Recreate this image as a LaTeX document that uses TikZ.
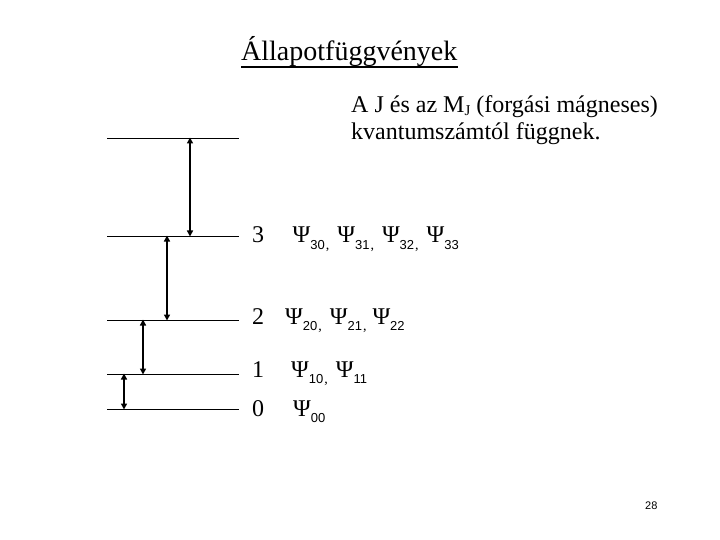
\documentclass[tikz,border=0pt]{standalone}
\usepackage{fontspec}
\setmainfont{Liberation Serif}
\setsansfont{Liberation Sans}
\usetikzlibrary{arrows.meta}
\newcommand{\psub}[2][]{Ψ\raisebox{-6pt}{\fontsize{13}{13}\sffamily #2\hspace{1pt}\rmfamily\fontsize{14}{14}\selectfont #1}}
\newcommand{\gapsp}{\hspace{8pt}}
\begin{document}
\begin{tikzpicture}[x=1pt,y=-1pt,
  txt/.style={inner sep=0pt,anchor=base west,font=\fontsize{24}{28}\selectfont},
  level/.style={line width=0.9pt},
  dbl/.style={line width=1.8pt,{Triangle[length=6pt,width=6pt]}-{Triangle[length=6pt,width=6pt]},shorten <=-0.5pt,shorten >=-0.5pt}]
\useasboundingbox (0,0) rectangle (720,540);
% title
\node[txt,font=\fontsize{28}{32}\selectfont] (title) at (241,61) {Állapotfüggvények};
\draw[line width=1.6pt] ([yshift=-6pt]title.base west) -- ([yshift=-6pt]title.base east);
% explanation
\node[txt] (e1) at (351,113) {A J és az M\raisebox{-3pt}{\fontsize{15}{15}\selectfont J} (forgási mágneses)};
\node[txt] (e2) at (351,140) {kvantumszámtól függnek.};
% level lines
\foreach \n/\y in {4/138,3/236,2/320,1/374,0/409}{
  \coordinate (a\n) at (107,\y);
  \coordinate (b\n) at (239,\y);
  \draw[level] (a\n) -- (b\n);
}
% arrows
\coordinate (u4) at (190,138); \coordinate (d4) at (190,236);
\coordinate (u3) at (167,236); \coordinate (d3) at (167,320);
\coordinate (u2) at (143,320); \coordinate (d2) at (143,374);
\coordinate (u1) at (124,374); \coordinate (d1) at (124,409);
\foreach \n in {1,2,3,4}{\draw[dbl] (u\n) -- (d\n);}
% labels
\node[txt] (n3) at (252,243) {3};
\node[txt] (p3) at (292.5,243) {\psub[,]{30}\gapsp\psub[,]{31}\gapsp\psub[,]{32}\gapsp\psub{33}};
\node[txt] (n2) at (252,324) {2};
\node[txt] (p2) at (285,324) {\psub[,]{20}\gapsp\psub[,]{21}\hspace{6pt}\psub{22}};
\node[txt] (n1) at (252,377) {1};
\node[txt] (p1) at (291,377) {\psub[,]{10}\gapsp\psub{11}};
\node[txt] (n0) at (252,416) {0};
\node[txt] (p0) at (293,416) {\psub{00}};
% page number
\node[inner sep=0pt,anchor=base west,font=\fontsize{11}{13}\sffamily] (pg) at (645,509) {28};
\end{tikzpicture}
\end{document}
